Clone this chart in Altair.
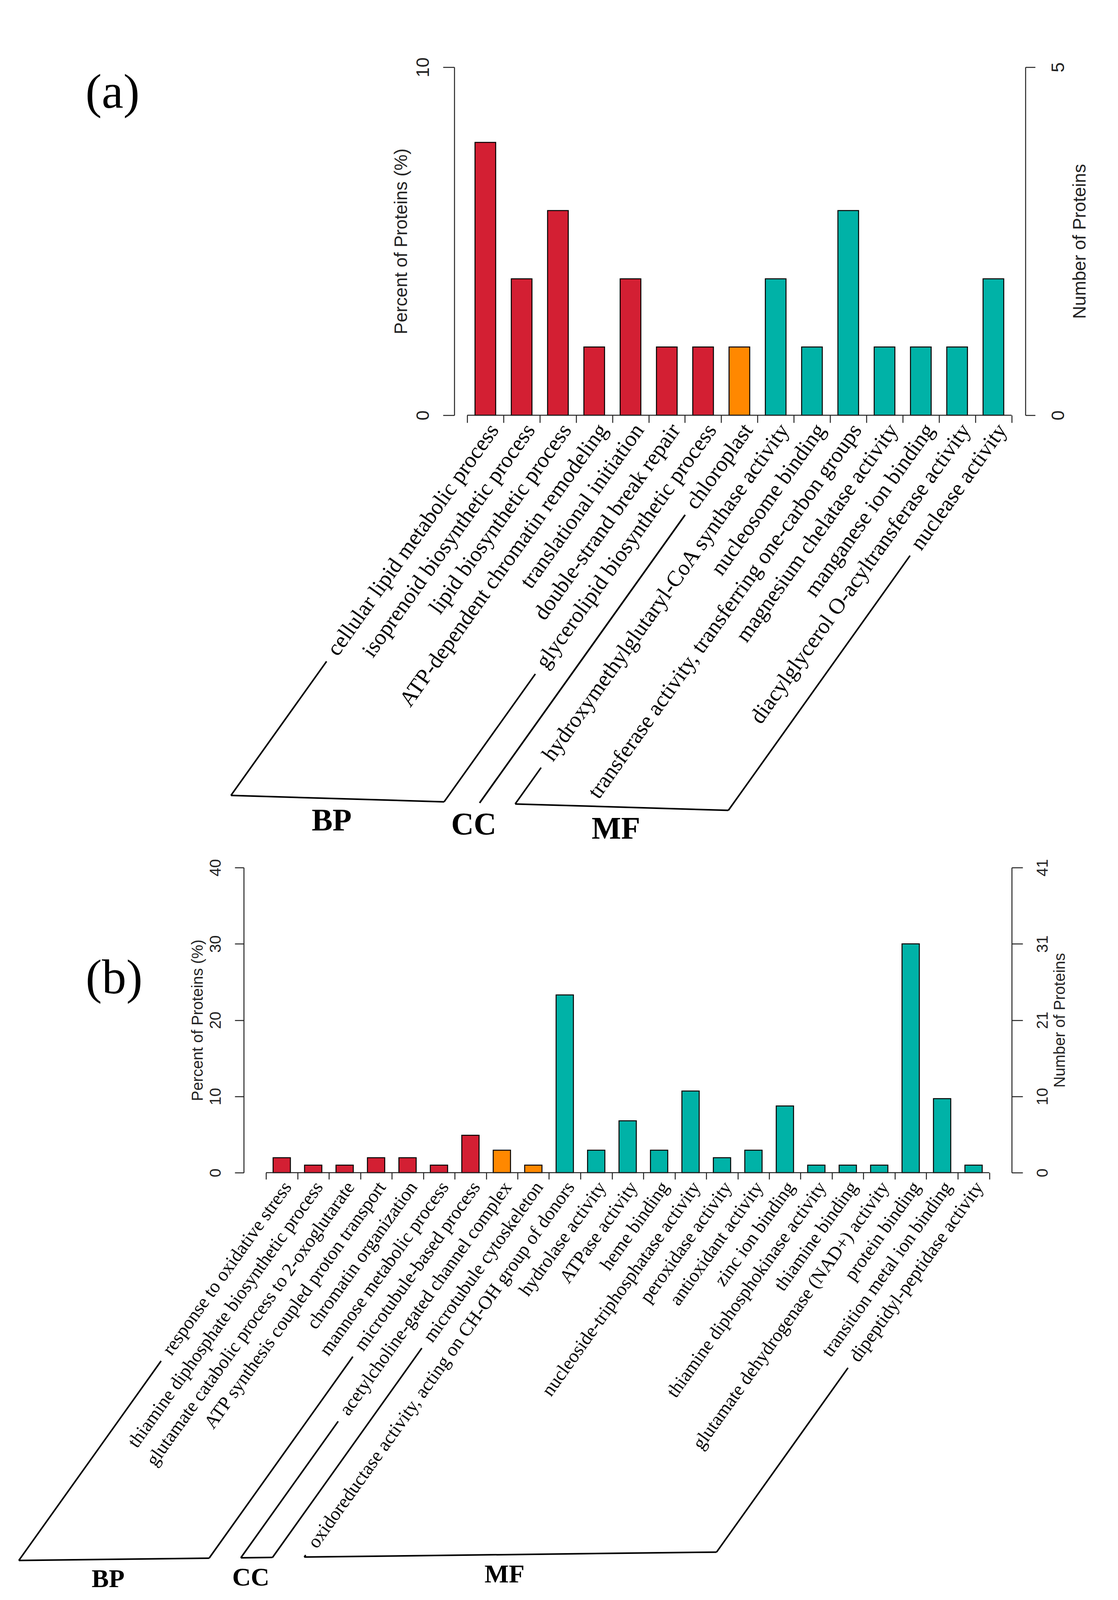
import math
import altair as alt
import pandas as pd

# ---------------- data ----------------
A_TERMS = [
    "cellular lipid metabolic process",
    "isoprenoid biosynthetic process",
    "lipid biosynthetic process",
    "ATP-dependent chromatin remodeling",
    "translational initiation",
    "double-strand break repair",
    "glycerolipid biosynthetic process",
    "chloroplast",
    "hydroxymethylglutaryl-CoA synthase activity",
    "nucleosome binding",
    "transferase activity, transferring one-carbon groups",
    "magnesium chelatase activity",
    "manganese ion binding",
    "diacylglycerol O-acyltransferase activity",
    "nuclease activity",
]
A_PERCENT = [7.84, 3.92, 5.88, 1.96, 3.92, 1.96, 1.96, 1.96,
             3.92, 1.96, 5.88, 1.96, 1.96, 1.96, 3.92]
A_GROUPS = ["BP"] * 7 + ["CC"] + ["MF"] * 7
A_LEFT_TICKS = [0, 10]
A_RIGHT_MAX = 5

B_TERMS = [
    "response to oxidative stress",
    "thiamine diphosphate biosynthetic process",
    "glutamate catabolic process to 2-oxoglutarate",
    "ATP synthesis coupled proton transport",
    "chromatin organization",
    "mannose metabolic process",
    "microtubule-based process",
    "acetylcholine-gated channel complex",
    "microtubule cytoskeleton",
    "oxidoreductase activity, acting on CH-OH group of donors",
    "hydrolase activity",
    "ATPase activity",
    "heme binding",
    "nucleoside-triphosphatase activity",
    "peroxidase activity",
    "antioxidant activity",
    "zinc ion binding",
    "thiamine diphosphokinase activity",
    "thiamine binding",
    "glutamate dehydrogenase (NAD+) activity",
    "protein binding",
    "transition metal ion binding",
    "dipeptidyl-peptidase activity",
]
B_PERCENT = [1.96, 0.98, 0.98, 1.96, 1.96, 0.98, 4.9, 2.94, 0.98,
             23.3, 2.94, 6.8, 2.94, 10.7, 1.96, 2.94, 8.75, 0.98, 0.98,
             0.98, 30.0, 9.7, 0.98]
B_GROUPS = ["BP"] * 7 + ["CC"] * 2 + ["MF"] * 14
B_LEFT_TICKS = [0, 10, 20, 30, 40]
B_RIGHT_MAX = 41

GROUP_ORDER = ["BP", "CC", "MF"]
GROUP_COLORS = ["#D31F33", "#FF8800", "#00B2A7"]

# ---------------- styling / layout (pixels) ----------------
AX = "#222222"
LW = 2.5
SERIF = "Liberation Serif"
SANS = "Liberation Sans"
VIEW_LEFT = 623      # both panels share one view column, axes are offset inside it
VIEW_RIGHT = 2624

A_STYLE = dict(axis_left=1162, first_tick=1195, step=92.9, axis_right=2624,
               height=891, bar_half=0.285,
               label_size=57, axis_size=46, group_size=80, angle=54.5,
               off=43, d0=35, gap=25, depth0=974.3, depth_k=0.03, group_dy=57,
               xtick=19, tick_left=29, tick_right=25, pad_left=51, pad_right=59,
               tpad_left=9, tpad_right=10, letter="(a)", letter_x=-336,
               letter_y=66, anchor_x=-615, anchor_y1=-163, anchor_y2=1999)
B_STYLE = dict(axis_left=623, first_tick=680, step=80.5, axis_right=2589,
               height=781, bar_half=0.275,
               label_size=48.5, axis_size=40, group_size=66, angle=54.5,
               off=35, d0=35, gap=25, depth0=985.9, depth_k=-0.012, group_dy=51,
               xtick=17, tick_left=23, tick_right=28, pad_left=49, pad_right=51,
               tpad_left=6, tpad_right=4, letter="(b)", letter_x=-332,
               letter_y=284, anchor_x=-615, anchor_y1=-48, anchor_y2=-47)

# Times (Liberation Serif) advance widths, per 1000 em
TIMES_W = {" ": 250, "-": 333, ",": 250, "(": 333, ")": 333, "+": 564, ".": 250}
for ch, w in zip("abcdefghijklmnopqrstuvwxyz",
                 [444, 500, 444, 500, 444, 333, 500, 500, 278, 278, 500, 278, 778,
                  500, 500, 500, 500, 333, 389, 278, 500, 500, 722, 500, 500, 444]):
    TIMES_W[ch] = w
for ch, w in zip("ABCDEFGHIJKLMNOPQRSTUVWXYZ",
                 [722, 667, 667, 722, 611, 556, 722, 722, 333, 389, 722, 611, 889,
                  722, 722, 556, 722, 667, 556, 611, 722, 722, 944, 722, 722, 611]):
    TIMES_W[ch] = w
for ch in "0123456789":
    TIMES_W[ch] = 500


def text_width(s, size):
    return sum(TIMES_W.get(ch, 500) for ch in s) / 1000.0 * size


def build_panel(terms, pct, groups, left_ticks, right_max, st):
    n = len(terms)
    step = st["step"]
    lp = (st["first_tick"] - VIEW_LEFT) / step
    rp = (VIEW_RIGHT - (st["first_tick"] + n * step)) / step
    W = VIEW_RIGHT - VIEW_LEFT
    H = st["height"]
    ymax = left_ticks[-1]
    ppy = H / ymax
    th = math.radians(st["angle"])
    c, s = math.cos(th), math.sin(th)

    xs = alt.Scale(domain=[-lp, n + rp], nice=False, zero=False)
    ys = alt.Scale(domain=[0, ymax], nice=False, zero=False)
    x_axis = alt.Axis(values=list(range(n + 1)), labels=False, domain=False,
                      grid=False, ticks=True, tickSize=st["xtick"], tickWidth=LW,
                      tickColor=AX, title=None)
    y_axis = alt.Axis(values=left_ticks, orient="left", grid=False,
                      offset=-(st["axis_left"] - VIEW_LEFT),
                      domainColor=AX, domainWidth=LW, tickColor=AX, tickWidth=LW,
                      tickSize=st["tick_left"], labelAngle=270, labelAlign="center",
                      labelBaseline="middle", labelPadding=st["pad_left"],
                      labelFont=SANS, labelFontSize=st["axis_size"], labelColor=AX,
                      labelOverlap=False, title="Percent of Proteins (%)",
                      titleFont=SANS, titleFontSize=st["axis_size"],
                      titleFontWeight="normal", titleColor=AX, titleAngle=270,
                      titleAlign="center", titleBaseline="bottom",
                      titlePadding=st["tpad_left"])

    def px_to_x(px):
        return px / step - lp

    def py_to_y(depth):
        return -depth / ppy

    df = pd.DataFrame({"term": terms, "pct": pct, "group": groups})
    df["i"] = range(n)
    df["x1"] = df["i"] + 0.5 - st["bar_half"]
    df["x2"] = df["i"] + 0.5 + st["bar_half"]
    df["base"] = 0.0
    df["lx"] = df["i"] + 0.5 + (st["off"] - st["d0"] * c) / step
    df["ly"] = py_to_y(st["d0"] * s)

    bars = alt.Chart(df).mark_bar(stroke="black", strokeWidth=2.5).encode(
        x=alt.X("x1:Q", scale=xs, axis=x_axis),
        x2=alt.X2("x2"),
        y=alt.Y("pct:Q", scale=ys, axis=y_axis),
        y2=alt.Y2("base"),
        color=alt.Color("group:N", scale=alt.Scale(domain=GROUP_ORDER,
                                                   range=GROUP_COLORS), legend=None),
    )

    axline = alt.Chart(pd.DataFrame({"a": [0], "b": [n], "y": [0.0]})).mark_rule(
        color=AX, strokeWidth=LW).encode(
        x=alt.X("a:Q", scale=xs, axis=x_axis), x2=alt.X2("b"),
        y=alt.Y("y:Q", scale=ys, axis=y_axis))

    labels = alt.Chart(df).mark_text(
        angle=360 - st["angle"], align="right", baseline="middle", font=SERIF,
        fontSize=st["label_size"], color="black").encode(
        x=alt.X("lx:Q", scale=xs, axis=x_axis),
        y=alt.Y("ly:Q", scale=ys, axis=y_axis),
        text="term:N")

    segs = []
    glabs = []
    for g in GROUP_ORDER:
        idx = [k for k, gg in enumerate(groups) if gg == g]
        if not idx:
            continue
        ends = []
        for k in (idx[0], idx[-1]):
            X0 = (k + 0.5 + lp) * step + st["off"]
            L = st["d0"] + text_width(terms[k], st["label_size"]) + st["gap"]
            top = (X0 - L * c, L * s)
            t = (st["depth0"] + st["depth_k"] * X0) / (s + st["depth_k"] * c)
            bot = (X0 - t * c, t * s)
            ends.append((top, bot))
        (t1, b1), (t2, b2) = ends
        for p, q in ((t1, b1), (b1, b2), (b2, t2)):
            segs.append({"x": px_to_x(p[0]), "y": py_to_y(p[1]),
                         "x2": px_to_x(q[0]), "y2": py_to_y(q[1])})
        mx = (b1[0] + b2[0]) / 2 - 15
        my = (b1[1] + b2[1]) / 2 + st["group_dy"]
        glabs.append({"gx": px_to_x(mx), "gy": py_to_y(my), "name": g})

    brackets = alt.Chart(pd.DataFrame(segs)).mark_rule(
        color="black", strokeWidth=4).encode(
        x=alt.X("x:Q", scale=xs, axis=x_axis), x2=alt.X2("x2"),
        y=alt.Y("y:Q", scale=ys, axis=y_axis), y2=alt.Y2("y2"))

    glabels = alt.Chart(pd.DataFrame(glabs)).mark_text(
        font=SERIF, fontWeight="bold", fontSize=st["group_size"], align="center",
        baseline="middle", color="black").encode(
        x=alt.X("gx:Q", scale=xs, axis=x_axis),
        y=alt.Y("gy:Q", scale=ys, axis=y_axis),
        text="name:N")

    letter = alt.Chart(pd.DataFrame({"t": [st["letter"]]})).mark_text(
        font=SERIF, fontSize=125, align="center", baseline="middle",
        color="black").encode(
        x=alt.value(st["letter_x"]), y=alt.value(st["letter_y"]), text="t:N")

    # invisible layout anchor (keeps the page margins of the original figure)
    anchor = alt.Chart(pd.DataFrame({"a": [0]})).mark_rule(
        color="white", strokeWidth=1).encode(
        x=alt.value(st["anchor_x"]), y=alt.value(st["anchor_y1"]),
        y2=alt.value(st["anchor_y2"]))

    right_vals = [t * right_max / ymax for t in left_ticks]
    r_axis = alt.Axis(values=right_vals, orient="right", grid=False,
                      offset=-(VIEW_RIGHT - st["axis_right"]),
                      domainColor=AX, domainWidth=LW, tickColor=AX, tickWidth=LW,
                      tickSize=st["tick_right"], labelAngle=270, labelAlign="center",
                      labelBaseline="middle", labelPadding=st["pad_right"],
                      labelFont=SANS, labelFontSize=st["axis_size"], labelColor=AX,
                      labelOverlap=False, labelExpr="round(datum.value)",
                      title="Number of Proteins", titleFont=SANS,
                      titleFontSize=st["axis_size"], titleFontWeight="normal",
                      titleColor=AX, titleAngle=270, titleAlign="center",
                      titleBaseline="top", titlePadding=st["tpad_right"])
    right = alt.Chart(pd.DataFrame({"v": [0.0]})).mark_rule(opacity=0).encode(
        y=alt.Y("v:Q", scale=alt.Scale(domain=[0, right_max], nice=False, zero=False),
                axis=r_axis))

    inner = alt.layer(bars, axline, labels, brackets, glabels, letter, anchor)
    return alt.layer(inner, right).resolve_scale(y="independent").properties(
        width=W, height=H)


panel_a = build_panel(A_TERMS, A_PERCENT, A_GROUPS, A_LEFT_TICKS, A_RIGHT_MAX, A_STYLE)
panel_b = build_panel(B_TERMS, B_PERCENT, B_GROUPS, B_LEFT_TICKS, B_RIGHT_MAX, B_STYLE)

chart = alt.vconcat(panel_a, panel_b, spacing=0).properties(
    padding=0, background="white").configure_view(stroke=None)

chart.save("out.html", embed_options={"renderer": "svg", "actions": False})
